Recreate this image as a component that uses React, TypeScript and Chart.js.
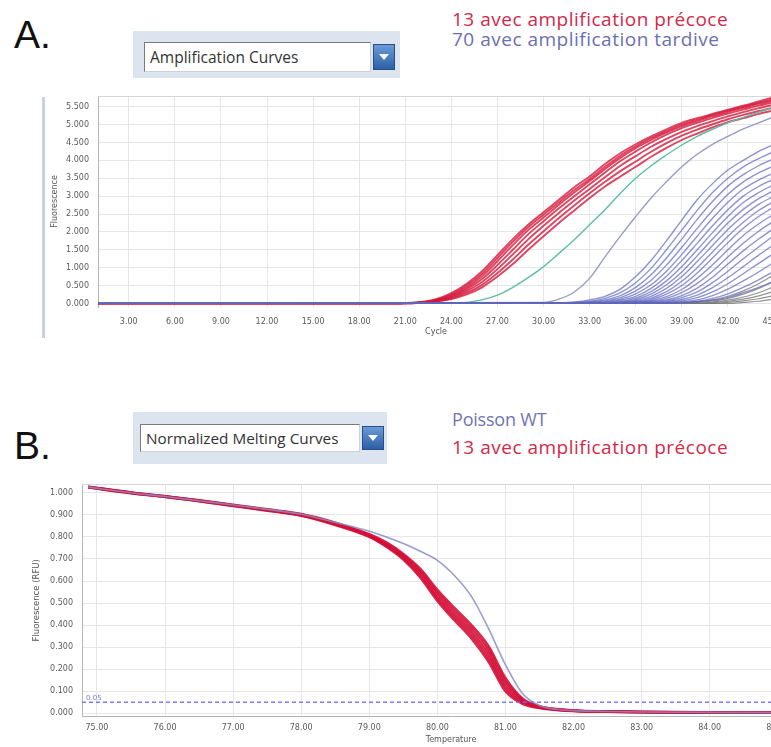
import { useEffect, useRef } from "react";
import { Chart, registerables } from "chart.js";

Chart.register(...registerables);

// ---------- Panel A : amplification curves ----------
const CYCLES_EARLY = [1, 20, 21, 22, 23, 24, 25, 26, 27, 28, 29, 30, 31, 32, 33, 34, 35, 36, 37, 38, 39, 40, 41, 42, 43, 44, 45];
const CYCLES_LATE = [1, 30, 31, 32, 33, 34, 35, 36, 37, 38, 39, 40, 41, 42, 43, 44, 45];
const CYCLE_TICKS = [3, 6, 9, 12, 15, 18, 21, 24, 27, 30, 33, 36, 39, 42, 45];
const FLUO_TICKS = [0, 0.5, 1, 1.5, 2, 2.5, 3, 3.5, 4, 4.5, 5, 5.5];

const RED_1 = [0, 0, 0.01, 0.04, 0.12, 0.29, 0.55, 0.9, 1.35, 1.8, 2.2, 2.55, 2.9, 3.25, 3.55, 3.9, 4.2, 4.45, 4.67, 4.87, 5.05, 5.18, 5.3, 5.42, 5.53, 5.65, 5.77];
const RED_2 = [0, 0, 0.01, 0.03, 0.1, 0.25, 0.5, 0.83, 1.27, 1.72, 2.13, 2.48, 2.83, 3.17, 3.48, 3.82, 4.13, 4.39, 4.62, 4.82, 5.0, 5.14, 5.27, 5.39, 5.5, 5.61, 5.72];
const RED_3 = [0, 0, 0.01, 0.03, 0.09, 0.22, 0.45, 0.76, 1.18, 1.63, 2.05, 2.4, 2.76, 3.1, 3.42, 3.76, 4.07, 4.34, 4.57, 4.78, 4.96, 5.1, 5.24, 5.36, 5.47, 5.58, 5.68];
const RED_4 = [0, 0, 0.01, 0.02, 0.08, 0.2, 0.4, 0.68, 1.07, 1.5, 1.93, 2.3, 2.66, 3.0, 3.33, 3.66, 3.98, 4.25, 4.5, 4.72, 4.9, 5.05, 5.19, 5.31, 5.42, 5.53, 5.63];
const RED_5 = [0, 0, 0, 0.02, 0.07, 0.17, 0.35, 0.6, 0.96, 1.37, 1.79, 2.17, 2.53, 2.88, 3.2, 3.53, 3.85, 4.12, 4.38, 4.6, 4.8, 4.96, 5.1, 5.23, 5.35, 5.46, 5.56];
const RED_6 = [0, 0, 0, 0.02, 0.06, 0.14, 0.3, 0.52, 0.85, 1.23, 1.64, 2.02, 2.39, 2.74, 3.08, 3.4, 3.7, 3.97, 4.24, 4.48, 4.69, 4.86, 5.01, 5.15, 5.27, 5.38, 5.48];
const RED_7 = [0, 0, 0, 0.02, 0.05, 0.12, 0.25, 0.45, 0.75, 1.1, 1.5, 1.88, 2.25, 2.6, 2.95, 3.27, 3.55, 3.82, 4.1, 4.35, 4.57, 4.75, 4.92, 5.07, 5.18, 5.3, 5.4];
const TEAL = [0, 0, 0, 0, 0, 0, 0.03, 0.1, 0.23, 0.45, 0.72, 1.03, 1.4, 1.78, 2.2, 2.62, 3.08, 3.5, 3.85, 4.15, 4.43, 4.67, 4.87, 5.05, 5.2, 5.35, 5.48];
const LAVENDER = [0, 0.03, 0.12, 0.32, 0.7, 1.3, 1.88, 2.43, 2.95, 3.4, 3.82, 4.17, 4.45, 4.67, 4.88, 5.05, 5.22];

const BLUE_1 = [0, 0, 0.01, 0.04, 0.1, 0.2, 0.4, 0.75, 1.2, 1.75, 2.33, 2.9, 3.35, 3.73, 4.0, 4.25, 4.45];
const BLUE_2 = [0, 0, 0, 0.02, 0.06, 0.14, 0.3, 0.58, 0.98, 1.5, 2.05, 2.6, 3.1, 3.5, 3.82, 4.05, 4.25];
const BLUE_3 = [0, 0, 0, 0.01, 0.04, 0.1, 0.22, 0.45, 0.8, 1.27, 1.8, 2.35, 2.85, 3.28, 3.6, 3.85, 4.05];
const BLUE_4 = [0, 0, 0, 0, 0.03, 0.07, 0.16, 0.35, 0.65, 1.07, 1.57, 2.1, 2.6, 3.05, 3.4, 3.65, 3.85];
const BLUE_5 = [0, 0, 0, 0, 0.02, 0.05, 0.12, 0.27, 0.52, 0.9, 1.37, 1.88, 2.38, 2.83, 3.2, 3.45, 3.65];
const BLUE_6 = [0, 0, 0, 0, 0.01, 0.03, 0.09, 0.2, 0.42, 0.76, 1.2, 1.68, 2.17, 2.62, 3.0, 3.27, 3.48];
const BLUE_7 = [0, 0, 0, 0, 0, 0.02, 0.06, 0.15, 0.33, 0.63, 1.03, 1.5, 1.98, 2.43, 2.82, 3.1, 3.32];
const BLUE_8 = [0, 0, 0, 0, 0, 0.01, 0.04, 0.11, 0.26, 0.52, 0.88, 1.33, 1.8, 2.25, 2.63, 2.93, 3.16];
const BLUE_9 = [0, 0, 0, 0, 0, 0.01, 0.03, 0.08, 0.2, 0.42, 0.75, 1.17, 1.62, 2.07, 2.45, 2.77, 3.0];
const BLUE_10 = [0, 0, 0, 0, 0, 0, 0.02, 0.06, 0.15, 0.33, 0.62, 1.0, 1.44, 1.88, 2.27, 2.6, 2.85];
const BLUE_11 = [0, 0, 0, 0, 0, 0, 0.01, 0.04, 0.11, 0.26, 0.5, 0.85, 1.27, 1.7, 2.1, 2.43, 2.7];
const BLUE_12 = [0, 0, 0, 0, 0, 0, 0.01, 0.03, 0.08, 0.19, 0.39, 0.7, 1.08, 1.5, 1.9, 2.22, 2.5];
const BLUE_13 = [0, 0, 0, 0, 0, 0, 0, 0.02, 0.06, 0.14, 0.3, 0.56, 0.9, 1.3, 1.68, 2.02, 2.3];
const BLUE_14 = [0, 0, 0, 0, 0, 0, 0, 0.01, 0.04, 0.1, 0.22, 0.43, 0.73, 1.1, 1.47, 1.8, 2.1];
const BLUE_15 = [0, 0, 0, 0, 0, 0, 0, 0.01, 0.03, 0.07, 0.16, 0.32, 0.58, 0.9, 1.25, 1.58, 1.9];
const BLUE_16 = [0, 0, 0, 0, 0, 0, 0, 0, 0.02, 0.05, 0.11, 0.23, 0.44, 0.72, 1.03, 1.35, 1.65];
const BLUE_17 = [0, 0, 0, 0, 0, 0, 0, 0, 0.01, 0.03, 0.07, 0.16, 0.32, 0.55, 0.83, 1.12, 1.4];
const BLUE_18 = [0, 0, 0, 0, 0, 0, 0, 0, 0, 0.02, 0.05, 0.1, 0.22, 0.4, 0.63, 0.88, 1.15];
const BLUE_19 = [0, 0, 0, 0, 0, 0, 0, 0, 0, 0.01, 0.03, 0.06, 0.14, 0.27, 0.45, 0.66, 0.9];
const BLUE_20 = [0, 0, 0, 0, 0, 0, 0, 0, 0, 0, 0.02, 0.04, 0.09, 0.17, 0.3, 0.45, 0.62];

const GRAY_1 = [0, 0, 0, 0, 0, 0, 0, 0, 0, 0, 0.02, 0.05, 0.1, 0.2, 0.35, 0.55, 0.8];
const GRAY_2 = [0, 0, 0, 0, 0, 0, 0, 0, 0, 0, 0, 0.03, 0.07, 0.14, 0.26, 0.42, 0.62];
const GRAY_3 = [0, 0, 0, 0, 0, 0, 0, 0, 0, 0, 0, 0, 0.04, 0.09, 0.18, 0.3, 0.47];
const GRAY_4 = [0, 0, 0, 0, 0, 0, 0, 0, 0, 0, 0, 0, 0.02, 0.06, 0.12, 0.21, 0.34];
const GRAY_5 = [0, 0, 0, 0, 0, 0, 0, 0, 0, 0, 0, 0, 0, 0.03, 0.07, 0.13, 0.22];
const GRAY_6 = [0, 0, 0, 0, 0, 0, 0, 0, 0, 0, 0, 0, 0, 0, 0.03, 0.06, 0.12];

// ---------- Panel B : normalized melting curves ----------
const TEMPS = [74.87, 75.5, 76, 76.5, 77, 77.5, 78, 78.5, 79, 79.25, 79.5, 79.75, 80, 80.25, 80.5, 80.75, 81, 81.25, 81.5, 81.75, 82, 82.5, 83, 84, 85, 85.6];
const TEMP_TICKS = [75, 76, 77, 78, 79, 80, 81, 82, 83, 84, 85];
const RFU_TICKS = [0, 0.1, 0.2, 0.3, 0.4, 0.5, 0.6, 0.7, 0.8, 0.9, 1.0];
const THRESHOLD = 0.05;
const THRESHOLD_LABEL = "0.05";

const WT_MELT = [1.026, 1.0, 0.983, 0.964, 0.945, 0.925, 0.903, 0.866, 0.826, 0.8, 0.77, 0.735, 0.694, 0.625, 0.53, 0.385, 0.22, 0.09, 0.035, 0.018, 0.012, 0.008, 0.006, 0.004, 0.003, 0.003];
const MELT_1 = [1.028, 1.002, 0.985, 0.966, 0.946, 0.925, 0.904, 0.865, 0.812, 0.775, 0.723, 0.655, 0.56, 0.478, 0.4, 0.305, 0.16, 0.067, 0.032, 0.019, 0.013, 0.009, 0.007, 0.005, 0.004, 0.004];
const MELT_2 = [1.027, 1.001, 0.984, 0.965, 0.944, 0.923, 0.902, 0.862, 0.809, 0.77, 0.717, 0.645, 0.548, 0.464, 0.385, 0.288, 0.145, 0.061, 0.03, 0.018, 0.012, 0.008, 0.006, 0.004, 0.003, 0.003];
const MELT_3 = [1.026, 1.0, 0.983, 0.964, 0.943, 0.922, 0.9, 0.86, 0.806, 0.765, 0.71, 0.635, 0.535, 0.45, 0.37, 0.27, 0.13, 0.055, 0.028, 0.017, 0.012, 0.008, 0.006, 0.004, 0.003, 0.003];
const MELT_4 = [1.025, 0.999, 0.982, 0.963, 0.942, 0.921, 0.898, 0.857, 0.803, 0.76, 0.703, 0.625, 0.522, 0.436, 0.355, 0.252, 0.115, 0.049, 0.026, 0.016, 0.011, 0.007, 0.005, 0.004, 0.003, 0.002];
const MELT_5 = [1.024, 0.998, 0.981, 0.962, 0.94, 0.919, 0.896, 0.854, 0.8, 0.755, 0.697, 0.615, 0.51, 0.422, 0.34, 0.235, 0.1, 0.043, 0.024, 0.015, 0.01, 0.007, 0.005, 0.003, 0.002, 0.002];

const RED_SET = [RED_1, RED_2, RED_3, RED_4, RED_5, RED_6, RED_7];
const BLUE_SET = [BLUE_1, BLUE_2, BLUE_3, BLUE_4, BLUE_5, BLUE_6, BLUE_7, BLUE_8, BLUE_9, BLUE_10, BLUE_11, BLUE_12, BLUE_13, BLUE_14, BLUE_15, BLUE_16, BLUE_17, BLUE_18, BLUE_19, BLUE_20];
const GRAY_SET = [GRAY_1, GRAY_2, GRAY_3, GRAY_4, GRAY_5, GRAY_6];
const MELT_RED_SET = [MELT_1, MELT_2, MELT_3, MELT_4, MELT_5];

const TICK_FONT = { family: "DejaVu Sans", size: 8 };
const TICK_COLOR = "#5a5a5a";
const GRID_COLOR = "#e6e6e6";

const pts = (xs: number[], ys: number[]) => xs.map((x, i) => ({ x, y: ys[i] }));

const lineDs = (data: any, color: string, width: number) => ({
  data,
  borderColor: color,
  borderWidth: width,
  pointRadius: 0,
  fill: false,
  cubicInterpolationMode: "monotone" as const,
});

const topBorder = {
  id: "topBorder",
  afterDraw(chart: any) {
    const { ctx, chartArea } = chart;
    ctx.save();
    ctx.strokeStyle = "#d6d6d6";
    ctx.lineWidth = 1;
    ctx.beginPath();
    ctx.moveTo(chartArea.left, chartArea.top + 0.5);
    ctx.lineTo(chartArea.right, chartArea.top + 0.5);
    ctx.stroke();
    ctx.restore();
  },
};

const thresholdLabel = {
  id: "thresholdLabel",
  afterDatasetsDraw(chart: any) {
    const { ctx, chartArea, scales } = chart;
    const y = scales.y.getPixelForValue(THRESHOLD);
    ctx.save();
    ctx.fillStyle = "#7b7df0";
    ctx.font = "7px 'DejaVu Sans'";
    ctx.textBaseline = "bottom";
    ctx.fillText(THRESHOLD_LABEL, chartArea.left + 4, y - 1);
    ctx.restore();
  },
};

function buildA(canvas: HTMLCanvasElement) {
  const datasets: any[] = [];
  BLUE_SET.forEach((s) => datasets.push(lineDs(pts(CYCLES_LATE, s), "rgba(96,102,190,0.72)", 1.35)));
  GRAY_SET.forEach((s) => datasets.push(lineDs(pts(CYCLES_LATE, s), "rgba(120,120,120,0.8)", 1.2)));
  datasets.push(lineDs(pts(CYCLES_LATE, LAVENDER), "rgba(152,154,206,1)", 1.4));
  datasets.push(lineDs(pts(CYCLES_EARLY, TEAL), "rgba(92,190,168,1)", 1.4));
  RED_SET.forEach((s) => datasets.push(lineDs(pts(CYCLES_EARLY, s), "rgba(214,22,58,0.8)", 1.9)));

  return new Chart(canvas, {
    type: "line",
    data: { datasets },
    plugins: [topBorder],
    options: {
      animation: false,
      responsive: false,
      events: [],
      layout: { padding: { top: 6, right: 26, left: 0, bottom: 0 } },
      plugins: { legend: { display: false }, tooltip: { enabled: false } },
      scales: {
        x: {
          type: "linear",
          min: 1,
          max: 45,
          afterBuildTicks: (s: any) => { s.ticks = CYCLE_TICKS.map((v) => ({ value: v })); },
          afterFit: (s: any) => { s.height = 43; s.paddingLeft = 0; s.paddingRight = 0; },
          grid: { color: GRID_COLOR, drawTicks: false },
          border: { display: false },
          ticks: { font: TICK_FONT, color: TICK_COLOR, padding: 10, maxRotation: 0, autoSkip: false, callback: (v: any) => Number(v).toFixed(2) },
          title: { display: true, text: "Cycle", font: { family: "DejaVu Sans", size: 8 }, color: "#555", padding: { top: 0, bottom: 13 } },
        },
        y: {
          min: -0.1,
          max: 5.8,
          afterBuildTicks: (s: any) => { s.ticks = FLUO_TICKS.map((v) => ({ value: v })); },
          afterFit: (s: any) => { s.width = 98; s.paddingTop = 0; s.paddingBottom = 0; },
          grid: { color: GRID_COLOR, drawTicks: false },
          border: { display: true, color: "#b5b5b5" },
          ticks: { font: TICK_FONT, color: TICK_COLOR, padding: 9, autoSkip: false, callback: (v: any) => Number(v).toFixed(3) },
          title: { display: true, text: "Fluorescence", font: { family: "DejaVu Sans", size: 8 }, color: "#555", padding: { top: 50, bottom: 0 } },
        },
      },
    } as any,
  });
}

function buildB(canvas: HTMLCanvasElement) {
  const datasets: any[] = [];
  datasets.push({
    data: pts([74.78, 85.62], [THRESHOLD, THRESHOLD]),
    borderColor: "rgba(110,112,235,0.9)",
    borderWidth: 1.3,
    borderDash: [4, 3],
    pointRadius: 0,
    fill: false,
  });
  datasets.push(lineDs(pts(TEMPS, WT_MELT), "rgba(138,140,202,0.85)", 1.6));
  MELT_RED_SET.forEach((s) => datasets.push(lineDs(pts(TEMPS, s), "rgba(212,16,55,0.9)", 2.5)));

  return new Chart(canvas, {
    type: "line",
    data: { datasets },
    plugins: [topBorder, thresholdLabel],
    options: {
      animation: false,
      responsive: false,
      events: [],
      layout: { padding: { top: 9, right: 20, left: 0, bottom: 0 } },
      plugins: { legend: { display: false }, tooltip: { enabled: false } },
      scales: {
        x: {
          type: "linear",
          min: 74.78,
          max: 85.62,
          afterBuildTicks: (s: any) => { s.ticks = TEMP_TICKS.map((v) => ({ value: v })); },
          afterFit: (s: any) => { s.height = 30.4; s.paddingLeft = 0; s.paddingRight = 0; },
          grid: { color: GRID_COLOR, drawTicks: false },
          border: { display: true, color: "#b5b5b5" },
          ticks: { font: TICK_FONT, color: TICK_COLOR, padding: 7, maxRotation: 0, autoSkip: false, callback: (v: any) => Number(v).toFixed(2) },
          title: { display: true, text: "Temperature", font: { family: "DejaVu Sans", size: 8 }, color: "#555", padding: { top: 0, bottom: 2 } },
        },
        y: {
          min: -0.015,
          max: 1.04,
          afterBuildTicks: (s: any) => { s.ticks = RFU_TICKS.map((v) => ({ value: v })); },
          afterFit: (s: any) => { s.width = 82; s.paddingTop = 0; s.paddingBottom = 0; },
          grid: { color: GRID_COLOR, drawTicks: false },
          border: { display: true, color: "#b5b5b5" },
          ticks: { font: TICK_FONT, color: TICK_COLOR, padding: 9, autoSkip: false, callback: (v: any) => Number(v).toFixed(3) },
          title: { display: true, text: "Fluorescence (RFU)", font: { family: "DejaVu Sans", size: 8.5 }, color: "#555", padding: { top: 31.5, bottom: 0 } },
        },
      },
    } as any,
  });
}

function Dropdown(props: { left: number; top: number; w: number; h: number; innerL: number; innerT: number; innerW: number; innerH: number; text: string; fontSize: number }) {
  const { left, top, w, h, innerL, innerT, innerW, innerH, text, fontSize } = props;
  return (
    <>
      <div style={{ position: "absolute", left, top, width: w, height: h, background: "#dbe4ef" }} />
      <div
        style={{
          position: "absolute",
          left: innerL,
          top: innerT,
          width: innerW,
          height: innerH,
          background: "#fff",
          borderTop: "1px solid #7a7a7a",
          borderLeft: "1px solid #7a7a7a",
          borderRight: "1px solid #d0d0d0",
          borderBottom: "1px solid #d0d0d0",
          boxSizing: "border-box",
          fontFamily: "'Open Sans', 'DejaVu Sans', sans-serif",
          fontSize,
          color: "#333",
          lineHeight: innerH - 2 + "px",
          paddingLeft: 5,
          whiteSpace: "nowrap",
        }}
      >
        {text}
      </div>
      <div
        style={{
          position: "absolute",
          left: innerL + innerW + 2,
          top: innerT + 2,
          width: 22,
          height: innerH - 4,
          background: "linear-gradient(#6a9bd8, #2d5fa6)",
          border: "1px solid #2a4f86",
          boxSizing: "border-box",
        }}
      >
        <div
          style={{
            position: "absolute",
            left: 5,
            top: (innerH - 4) / 2 - 4,
            width: 0,
            height: 0,
            borderLeft: "5px solid transparent",
            borderRight: "5px solid transparent",
            borderTop: "6px solid #fff",
          }}
        />
      </div>
    </>
  );
}

export default function App() {
  const refA = useRef<HTMLCanvasElement>(null);
  const refB = useRef<HTMLCanvasElement>(null);

  useEffect(() => {
    const a = buildA(refA.current!);
    const b = buildB(refB.current!);
    return () => {
      a.destroy();
      b.destroy();
    };
  }, []);

  const legendFont = "'Open Sans', 'Noto Sans', sans-serif";
  const legendStyle = (top: number, color: string, spacing = 0.5, size = 19) => ({
    position: "absolute" as const,
    left: 452,
    top,
    fontFamily: legendFont,
    fontSize: size,
    letterSpacing: spacing + "px",
    lineHeight: "22px",
    color,
    whiteSpace: "nowrap" as const,
  });

  return (
    <div style={{ position: "relative", width: 771, height: 747, overflow: "hidden", background: "#fff" }}>
      <style>{"body{margin:0;}"}</style>

      {/* Panel A header */}
      <div style={{ position: "absolute", left: 14, top: 11, fontFamily: "'Liberation Sans', sans-serif", fontSize: 39, lineHeight: "48px", color: "#111" }}>A.</div>
      <Dropdown left={133} top={31} w={267} h={47} innerL={144} innerT={42} innerW={227} innerH={30} text="Amplification Curves" fontSize={15.5} />
      <div style={legendStyle(8, "#d3294a")}>13 avec amplification précoce</div>
      <div style={legendStyle(28, "#6a6fb2")}>70 avec amplification tardive</div>
      <div style={{ position: "absolute", left: 42, top: 97, width: 3, height: 241, background: "#c8d2e2" }} />

      <div style={{ position: "absolute", left: 0, top: 90, width: 800, height: 260 }}>
        <canvas ref={refA} width={800} height={260} style={{ width: 800, height: 260, display: "block" }} />
      </div>

      {/* Panel B header */}
      <div style={{ position: "absolute", left: 14, top: 422, fontFamily: "'Liberation Sans', sans-serif", fontSize: 39, lineHeight: "48px", color: "#111" }}>B.</div>
      <Dropdown left={133} top={412} w={254} h={52} innerL={140} innerT={424} innerW={220} innerH={28} text="Normalized Melting Curves" fontSize={15.3} />
      <div style={legendStyle(408, "#7074b6", -0.2, 18)}>Poisson WT</div>
      <div style={legendStyle(436, "#d3294a")}>13 avec amplification précoce</div>

      <div style={{ position: "absolute", left: 0, top: 475, width: 840, height: 272 }}>
        <canvas ref={refB} width={840} height={272} style={{ width: 840, height: 272, display: "block" }} />
      </div>
    </div>
  );
}
